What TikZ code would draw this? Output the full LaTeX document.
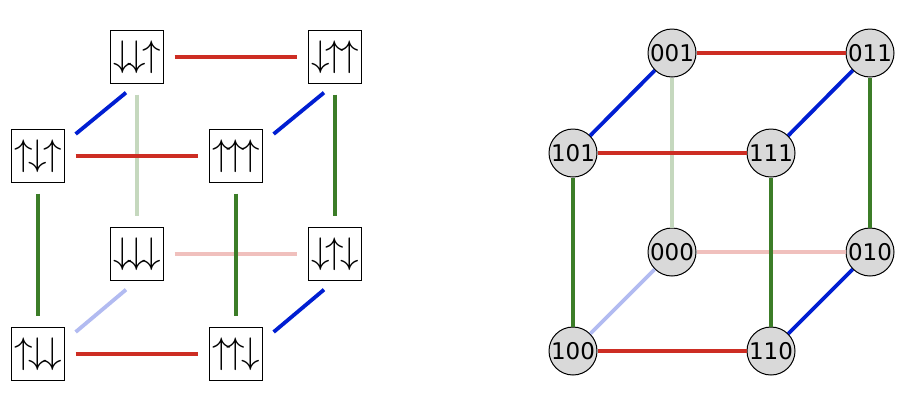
\documentclass[tikz,border=0pt]{standalone}
\usepackage{fontspec}
\usepackage{graphicx}
\newfontfamily\dejavu{DejaVu Sans}
\definecolor{cred}{RGB}{205,45,35}
\definecolor{cblue}{RGB}{0,30,210}
\definecolor{cgreen}{RGB}{60,125,40}
\newcommand{\spins}[3]{\scalebox{3.7}{$#1\mkern-2mu#2\mkern-2mu#3$}}
\begin{document}
\begin{tikzpicture}[x=1pt,y=-1pt,
  spin/.style={draw, line width=1.3pt, minimum size=53pt, inner sep=0pt},
  bit/.style={circle, draw, line width=1pt, fill=black!15, minimum size=48pt, inner sep=0pt,
    font=\dejavu\fontsize{23}{23}\selectfont},
  edge/.style={line width=3.8pt},
  gap/.style={edge, shorten <=10.5pt, shorten >=10.5pt}]
\useasboundingbox (0,0) rectangle (906,400);
% ---------- left cube ----------
\node[spin] (s001) at (137,57)  {\spins{\downarrow}{\downarrow}{\uparrow}};
\node[spin] (s011) at (335,57)  {\spins{\downarrow}{\uparrow}{\uparrow}};
\node[spin] (s101) at (38,156)  {\spins{\uparrow}{\downarrow}{\uparrow}};
\node[spin] (s111) at (236,156) {\spins{\uparrow}{\uparrow}{\uparrow}};
\node[spin] (s000) at (137,254) {\spins{\downarrow}{\downarrow}{\downarrow}};
\node[spin] (s010) at (335,254) {\spins{\downarrow}{\uparrow}{\downarrow}};
\node[spin] (s100) at (38,354)  {\spins{\uparrow}{\downarrow}{\downarrow}};
\node[spin] (s110) at (236,354) {\spins{\uparrow}{\uparrow}{\downarrow}};
% light (hidden) edges
\draw[gap, cgreen!30] (s001) -- (s000);
\draw[gap, cred!30] (s000) -- (s010);
\draw[edge, cblue!30] ([shift={(10.5,-22)}]s100.east) -- ([shift={(-11,8.5)}]s000.south);
% visible edges
\draw[gap, cred] (s001) -- (s011);
\draw[gap, cred] (s101) -- (s111);
\draw[gap, cred] (s100) -- (s110);
\draw[gap, cgreen] (s011) -- (s010);
\draw[gap, cgreen] (s101) -- (s100);
\draw[gap, cgreen] (s111) -- (s110);
\draw[edge, cblue] ([shift={(10.5,-22)}]s101.east) -- ([shift={(-11,8.5)}]s001.south);
\draw[edge, cblue] ([shift={(10.5,-22)}]s111.east) -- ([shift={(-11,8.5)}]s011.south);
\draw[edge, cblue] ([shift={(10.5,-22)}]s110.east) -- ([shift={(-11,8.5)}]s010.south);
% ---------- right cube ----------
\node[bit] (b001) at (672,53)  {001};
\node[bit] (b011) at (870,53)  {011};
\node[bit] (b101) at (573,153) {101};
\node[bit] (b111) at (771,153) {111};
\node[bit] (b000) at (672,252) {000};
\node[bit] (b010) at (870,252) {010};
\node[bit] (b100) at (573,351) {100};
\node[bit] (b110) at (771,351) {110};
\draw[edge, cgreen!30] (b001) -- (b000);
\draw[edge, cred!30] (b000) -- (b010);
\draw[edge, cblue!30] (b100) -- (b000);
\draw[edge, cred] (b001) -- (b011);
\draw[edge, cred] (b101) -- (b111);
\draw[edge, cred] (b100) -- (b110);
\draw[edge, cgreen] (b011) -- (b010);
\draw[edge, cgreen] (b101) -- (b100);
\draw[edge, cgreen] (b111) -- (b110);
\draw[edge, cblue] (b101) -- (b001);
\draw[edge, cblue] (b111) -- (b011);
\draw[edge, cblue] (b110) -- (b010);
\end{tikzpicture}
\end{document}
